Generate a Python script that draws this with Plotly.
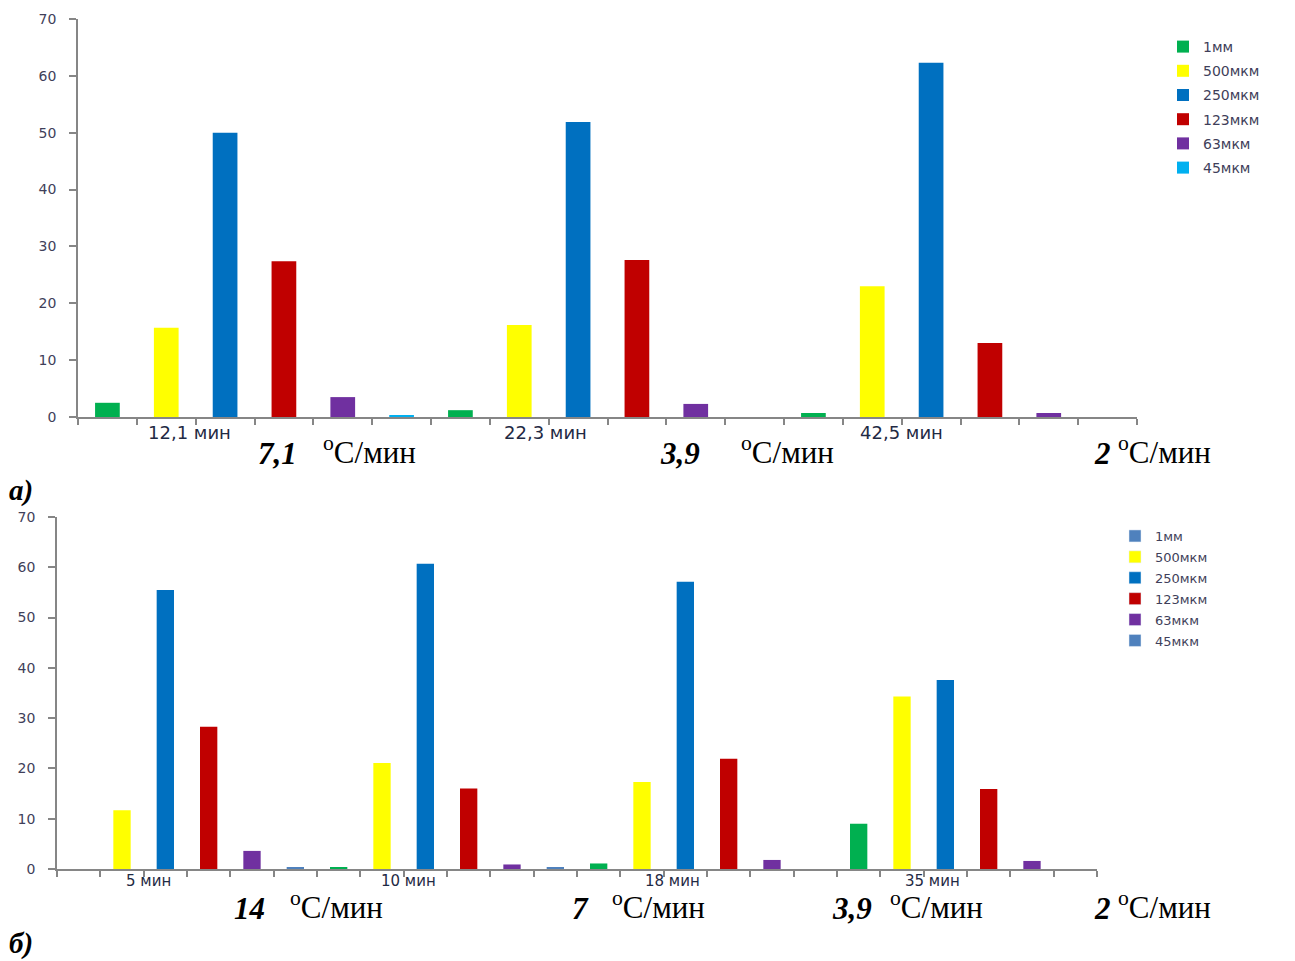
import plotly.graph_objects as go

# Fractions (%) by particle size for each heating regime
sizes = ["1мм", "500мкм", "250мкм", "123мкм", "63мкм", "45мкм"]

top_times = ["12,1 мин", "22,3 мин", "42,5 мин"]
top_rates = ["7,1", "3,9", "2"]
top_1mm = [2.5, 1.2, 0.7]
top_500 = [15.7, 16.2, 23.0]
top_250 = [50.0, 51.9, 62.3]
top_123 = [27.4, 27.6, 13.0]
top_63 = [3.5, 2.3, 0.7]
top_45 = [0.2, None, None]

bot_times = ["5 мин", "10 мин", "18 мин", "35 мин"]
bot_rates = ["14", "7", "3,9", "2"]
bot_1mm = [None, 0.2, 1.1, 9.0]
bot_500 = [11.7, 21.1, 17.3, 34.3]
bot_250 = [55.5, 60.7, 57.1, 37.6]
bot_123 = [28.3, 16.0, 21.9, 15.9]
bot_63 = [3.6, 0.9, 1.8, 1.6]
bot_45 = [0.2, 0.2, None, None]

top_series = [top_1mm, top_500, top_250, top_123, top_63, top_45]
bot_series = [bot_1mm, bot_500, bot_250, bot_123, bot_63, bot_45]

top_colors = ["#00b050", "#ffff00", "#0070c0", "#c00000", "#7030a0", "#00b0f0"]
bot_bar_colors = ["#00b050", "#ffff00", "#0070c0", "#c00000", "#7030a0", "#4f81bd"]
bot_legend_colors = ["#4f81bd", "#ffff00", "#0070c0", "#c00000", "#7030a0", "#4f81bd"]

# label positions along the category axis (each group spans 6 slots)
top_label_pos = [1.4, 7.45, 13.5]
bot_label_pos = [1.6, 7.6, 13.7, 19.7]

n_sizes = len(sizes)
AXIS_GRAY = "#868686"
TICK_FONT = dict(family="DejaVu Sans", size=14, color="#3f3f5a")

fig = go.Figure()

# upper chart: one slot per bar, series interleaved by group
for i, (name, vals, col) in enumerate(zip(sizes, top_series, top_colors)):
    xs = [g * n_sizes + i for g in range(len(vals))]
    fig.add_trace(go.Bar(
        x=xs, y=vals, name=name, marker=dict(color=col, line=dict(width=0)),
        width=0.42, xaxis="x", yaxis="y", legend="legend",
        legendgroup="t" + name,
    ))

# lower chart
for i, (name, vals, col) in enumerate(zip(sizes, bot_series, bot_bar_colors)):
    xs = [g * n_sizes + i for g in range(len(vals))]
    fig.add_trace(go.Bar(
        x=xs, y=vals, name=name, marker=dict(color=col, line=dict(width=0)),
        width=0.4, xaxis="x2", yaxis="y2", showlegend=False,
    ))
for name, col in zip(sizes, bot_legend_colors):
    fig.add_trace(go.Bar(
        x=[None], y=[None], name=name, marker=dict(color=col),
        xaxis="x2", yaxis="y2", legend="legend2", legendgroup="b" + name,
    ))

n_top = len(top_times) * n_sizes
n_bot = len(bot_times) * n_sizes


def x_axis(n, domain, anchor):
    return dict(
        domain=domain, anchor=anchor, range=[-0.5, n - 0.5], automargin=False,
        tickmode="array", tickvals=[k - 0.5 for k in range(n + 1)],
        showticklabels=False, ticks="outside", ticklen=6,
        tickcolor=AXIS_GRAY, tickwidth=1.5,
        showline=True, linecolor=AXIS_GRAY, linewidth=1.5,
        showgrid=False, zeroline=False, fixedrange=True,
    )


def y_axis(domain, anchor):
    return dict(
        domain=domain, anchor=anchor, range=[0, 70], dtick=10, automargin=False,
        ticks="outside", ticklen=7, tickcolor=AXIS_GRAY, tickwidth=1.5,
        showline=True, linecolor=AXIS_GRAY, linewidth=1.5,
        showgrid=False, zeroline=False, tickfont=TICK_FONT, ticklabelstandoff=10,
    )


W, H = 1295, 961
top_dom_x = [78 / W, 1137 / W]
top_dom_y = [1 - 417 / H, 1 - 19 / H]
bot_dom_x = [57 / W, 1097 / W]
bot_dom_y = [1 - 869 / H, 1 - 517 / H]

annotations = []
for t, p in zip(top_times, top_label_pos):
    annotations.append(dict(
        x=p, y=top_dom_y[0], xref="x", yref="paper", text=t, showarrow=False,
        yanchor="top", yshift=-3, font=dict(family="DejaVu Sans", size=18, color="#1f2a44"),
    ))
for t, p in zip(bot_times, bot_label_pos):
    annotations.append(dict(
        x=p, y=bot_dom_y[0], xref="x2", yref="paper", text=t, showarrow=False,
        yanchor="top", yshift=-1, font=dict(family="DejaVu Sans", size=15, color="#1f2a44"),
    ))

SERIF = "Liberation Serif"
rate_font = dict(family=SERIF, size=31, color="black", weight="bold", style="italic")
unit_font = dict(family=SERIF, size=31, color="black")
label_font = dict(family=SERIF, size=29, color="black", weight="bold", style="italic")
UNIT = "<sup>o</sup>C/мин"

# heating rate captions: (rate left edge, unit left edge)
top_rate_x = [(256, 321), (658, 739), (1092, 1116)]
bot_rate_x = [(232, 288), (570, 610), (830, 888), (1092, 1116)]
for r, (xr, xu) in zip(top_rates, top_rate_x):
    annotations.append(dict(x=xr / W, y=1 - 453 / H, xref="paper", yref="paper",
                            text=r, showarrow=False, xanchor="left", yanchor="middle", font=rate_font))
    annotations.append(dict(x=xu / W, y=1 - 450 / H, xref="paper", yref="paper",
                            text=UNIT, showarrow=False, xanchor="left", yanchor="middle", font=unit_font))
for r, (xr, xu) in zip(bot_rates, bot_rate_x):
    annotations.append(dict(x=xr / W, y=1 - 908 / H, xref="paper", yref="paper",
                            text=r, showarrow=False, xanchor="left", yanchor="middle", font=rate_font))
    annotations.append(dict(x=xu / W, y=1 - 905 / H, xref="paper", yref="paper",
                            text=UNIT, showarrow=False, xanchor="left", yanchor="middle", font=unit_font))

for lbl, yy in (("а)", 490), ("б)", 943)):
    annotations.append(dict(x=7 / W, y=1 - yy / H, xref="paper", yref="paper",
                            text=lbl, showarrow=False, xanchor="left", yanchor="middle", font=label_font))

fig.update_layout(
    width=W, height=H, margin=dict(l=0, r=0, t=0, b=0),
    paper_bgcolor="white", plot_bgcolor="white",
    barmode="overlay",
    xaxis=x_axis(n_top, top_dom_x, "y"),
    yaxis=y_axis(top_dom_y, "x"),
    xaxis2=x_axis(n_bot, bot_dom_x, "y2"),
    yaxis2=y_axis(bot_dom_y, "x2"),
    legend=dict(x=1163 / W, y=1 - 31 / H, xanchor="left", yanchor="top",
                font=dict(family="DejaVu Sans", size=14, color="#3f3f5a"),
                traceorder="grouped", tracegroupgap=3, bgcolor="rgba(0,0,0,0)"),
    legend2=dict(x=1115 / W, y=1 - 521 / H, xanchor="left", yanchor="top",
                 font=dict(family="DejaVu Sans", size=13, color="#3f3f5a"),
                 traceorder="grouped", tracegroupgap=1, bgcolor="rgba(0,0,0,0)"),
    annotations=annotations,
    showlegend=True,
)

fig.write_html("out.html")
